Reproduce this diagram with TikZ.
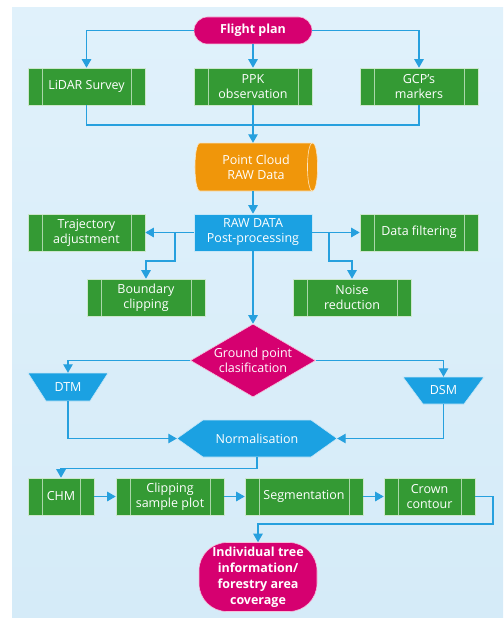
\documentclass[tikz,border=0pt]{standalone}
\usepackage{fontspec}
\setmainfont{Open Sans}
\usetikzlibrary{arrows.meta,shapes.geometric,calc}
\definecolor{bgtop}{RGB}{224,241,251}
\definecolor{bgbot}{RGB}{213,235,248}
\definecolor{linec}{RGB}{38,160,222}
\definecolor{boxblue}{RGB}{27,161,226}
\definecolor{boxgreen}{RGB}{52,154,52}
\definecolor{magen}{RGB}{214,0,112}
\definecolor{orng}{RGB}{240,150,10}
\definecolor{inl}{RGB}{170,215,170}
\tikzset{
  x=1pt,y=-1pt,
  txt/.style={text=white,font=\fontsize{12.5}{15}\selectfont,align=center,inner sep=0pt},
  btxt/.style={text=white,font=\bfseries\fontsize{12.5}{16}\selectfont,align=center,inner sep=0pt},
  gbox/.style={txt,fill=boxgreen,draw=white!75!boxgreen,line width=0.6pt,minimum height=37,
    path picture={
      \draw[inl,line width=0.8pt] ([xshift=14pt]path picture bounding box.north west) -- ([xshift=14pt]path picture bounding box.south west);
      \draw[inl,line width=0.8pt] ([xshift=-14pt]path picture bounding box.north east) -- ([xshift=-14pt]path picture bounding box.south east);
    }},
  bbox/.style={txt,fill=boxblue,draw=white!75!boxblue,line width=0.6pt,minimum height=37},
  shp/.style={draw=white!75!#1,fill=#1,line width=0.6pt},
  arr/.style={draw=linec,line width=1.1pt,-{Triangle[width=9.5pt,length=8.5pt]}},
  ln/.style={draw=linec,line width=1.1pt},
}
\begin{document}
\begin{tikzpicture}
\useasboundingbox (0,0) rectangle (503,618);
\shade[top color=bgtop,bottom color=bgbot] (12,8) rectangle (503,618);

% Flight plan
\node[btxt,fill=magen,draw=white!75!magen,line width=0.6pt,rounded corners=13.5pt,minimum width=118,minimum height=27] (fp) at (253,30.5) {Flight plan};

% First row
\node[gbox,minimum width=117] (lidar) at (86.5,86.5) {LiDAR Survey};
\node[gbox,minimum width=118] (ppk) at (253,86.5) {PPK\\observation};
\node[gbox,minimum width=118] (gcp) at (419,86.5) {GCP's\\markers};

% Point cloud cylinder
\path[shp=orng] (200,143) -- (312.5,143) .. controls (319.2,143) and (319.2,191) .. (312.5,191) -- (200,191) .. controls (193.3,191) and (193.3,143) .. (200,143) -- cycle;
\draw[white!75!orng,line width=0.6pt] (312.5,143) .. controls (305.8,143) and (305.8,191) .. (312.5,191);
\node[txt,minimum width=123,minimum height=48] (pc) at (256,167) {Point Cloud\\RAW Data};

% RAW data row
\node[bbox,minimum width=118] (raw) at (253,232.5) {RAW DATA\\Post-processing};
\node[gbox,minimum width=117] (traj) at (86.5,232.5) {Trajectory\\adjustment};
\node[gbox,minimum width=118] (filt) at (419,232.5) {Data filtering};
\node[gbox,minimum width=118] (bound) at (146,297.5) {Boundary\\clipping};
\node[gbox,minimum width=118] (noise) at (352,297.5) {Noise\\reduction};

% Diamond
\node[diamond,shp=magen,minimum width=125,minimum height=73,inner sep=0pt] (gp) at (253,360.5) {};
\node[txt] at (gp.center) {Ground point\\clasification};

% DTM / DSM trapezoids
\path[shp=boxblue] (28,373) -- (108,373) -- (90,401) -- (46,401) -- cycle;
\node[txt,minimum width=80,minimum height=28] (dtm) at (68,387) {DTM};
\path[shp=boxblue] (403,377) -- (484,377) -- (464,404) -- (423,404) -- cycle;
\node[txt,minimum width=81,minimum height=27] (dsm) at (443.5,390.5) {DSM};

% Normalisation hexagon
\path[shp=boxblue] (177,438.5) -- (203,420) -- (311,420) -- (337,438.5) -- (311,457) -- (203,457) -- cycle;
\node[txt,minimum width=160,minimum height=37] (norm) at (257,438.5) {Normalisation};

% Bottom row
\node[gbox,minimum width=66] (chm) at (61,496.5) {CHM};
\node[gbox,minimum width=108] (clip) at (170,496.5) {Clipping\\sample plot};
\node[gbox,minimum width=118] (seg) at (304,496.5) {Segmentation};
\node[gbox,minimum width=91] (crown) at (429.5,496.5) {Crown\\contour};

% Final
\node[btxt,fill=magen,draw=white!75!magen,line width=0.6pt,rounded corners=28pt,minimum width=118,minimum height=69] (fin) at (258,577) {Individual tree\\information/\\forestry area\\coverage};

% Connectors
\draw[arr] (fp.west) -| (lidar.north);
\draw[arr] (fp.south) -- (ppk.north);
\draw[arr] (fp.east) -| (gcp.north);
\coordinate (m) at (253,125);
\draw[ln] (lidar.south) |- (m);
\draw[ln] (gcp.south) |- (m);
\draw[arr] (ppk.south) -- (ppk.south |- pc.north);
\draw[arr] (raw.north |- pc.south) -- (raw.north);
\draw[arr] (raw.west) -- (traj.east);
\draw[arr] (raw.east) -- (filt.west);
\coordinate (bl) at (175,232.5);
\coordinate (br) at (329,232.5);
\draw[arr] (bl) -- ++(0,28.5) -| (bound.north);
\draw[arr] (br) -- ++(0,28.5) -| (noise.north);
\draw[arr] (raw.south) -- (gp.north);
\draw[arr] (gp.west) -| (dtm.north);
\draw[arr] (gp.east) -| (dsm.north);
\draw[arr] (dtm.south) |- (norm.west);
\draw[arr] (dsm.south) |- (norm.east);
\draw[arr] (norm.south) -- ++(0,11.5) -| (chm.north);
\draw[arr] (chm.east) -- (clip.west);
\draw[arr] (clip.east) -- (seg.west);
\draw[arr] (seg.east) -- (crown.west);
\coordinate (c1) at (493,524);
\draw[arr] (crown.east) -| (c1) -| (fin.north);
\end{tikzpicture}
\end{document}
